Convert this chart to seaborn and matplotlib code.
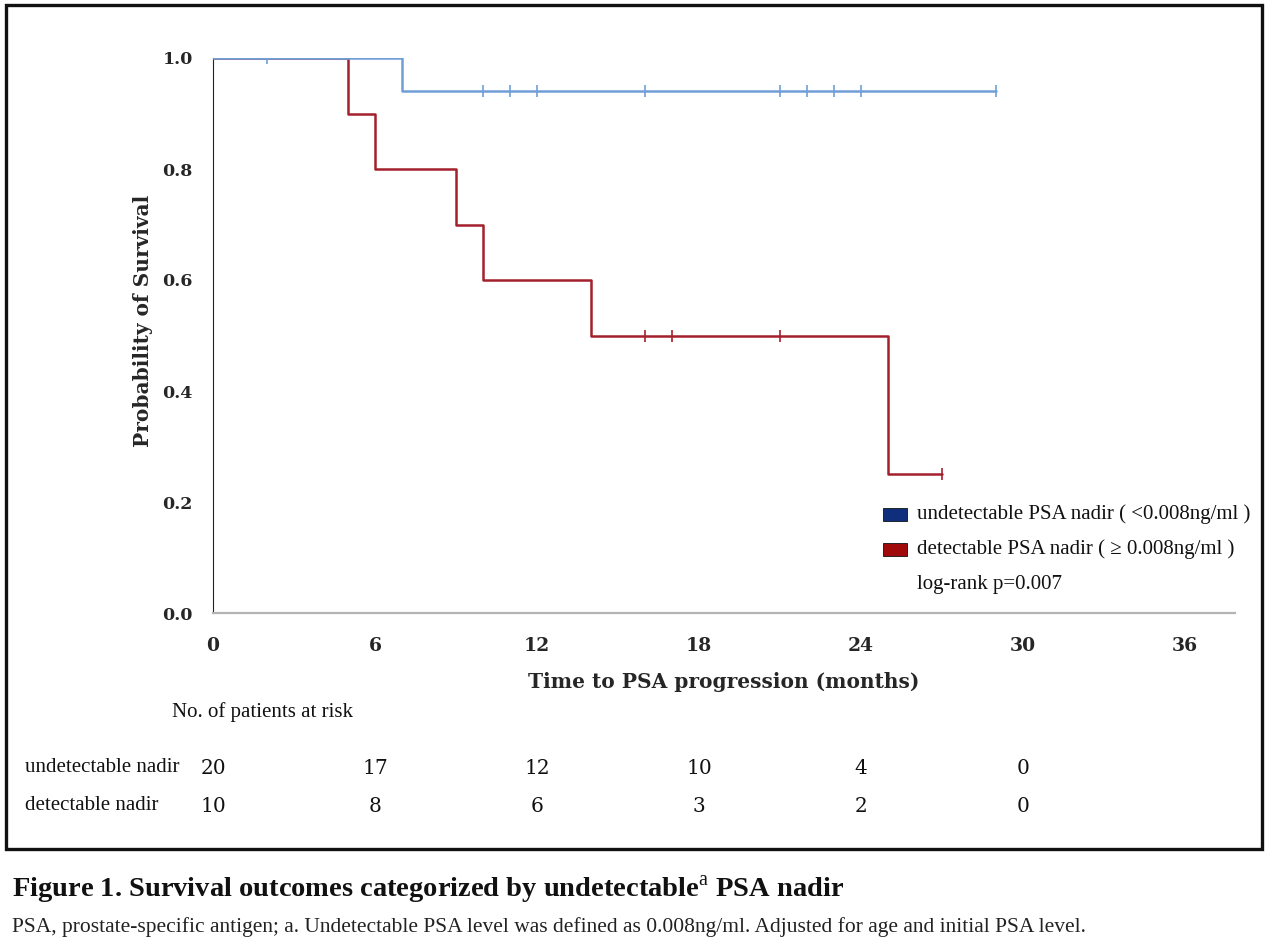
import numpy as np
import pandas as pd
import matplotlib
matplotlib.use("Agg")
import matplotlib.pyplot as plt
from matplotlib.patches import Rectangle
import seaborn as sns

# ---- data ----
undet_step_times = [0, 7, 29]
undet_step_surv = [1.0, 0.94, 0.94]
undet_censor_times = [2, 10, 11, 12, 16, 21, 22, 23, 24, 29]

det_step_times = [0, 5, 6, 9, 10, 14, 25, 27]
det_step_surv = [1.0, 0.9, 0.8, 0.7, 0.6, 0.5, 0.25, 0.25]
det_censor_times = [16, 17, 21, 27]

x_ticks = [0, 6, 12, 18, 24, 30, 36]
y_ticks = [0.0, 0.2, 0.4, 0.6, 0.8, 1.0]

risk_times = [0, 6, 12, 18, 24, 30]
risk_undet = [20, 17, 12, 10, 4, 0]
risk_det = [10, 8, 6, 3, 2, 0]

group_names = ["undetectable PSA nadir ( <0.008ng/ml )", "detectable PSA nadir ( \u2265 0.008ng/ml )"]
risk_row_names = ["undetectable nadir", "detectable nadir"]

line_colors = ["#6f9fd6", "#a3202c"]
patch_colors = ["#0f2f7c", "#a00a0a"]

# ---- style ----
sns.set_style("white")
plt.rcParams["font.family"] = ["DejaVu Serif", "DejaVu Sans"]
plt.rcParams["mathtext.fontset"] = "custom"
plt.rcParams["mathtext.rm"] = "Liberation Serif"

W, H = 1269, 948
fig = plt.figure(figsize=(W / 100, H / 100), dpi=100)

def px_ax(l, t, r, b):
    return [l / W, 1 - b / H, (r - l) / W, (b - t) / H]

ax = fig.add_axes(px_ax(213, 58, 1235, 613))

def censor_y(times, surv, ctimes):
    idx = np.searchsorted(times, ctimes, side="right") - 1
    return [surv[i] for i in idx]

curves = [
    ("undet", undet_step_times, undet_step_surv, undet_censor_times, 4),
    ("det", det_step_times, det_step_surv, det_censor_times, 2),
]
for (name, t, s, c, z), col in zip(curves, line_colors):
    df = pd.DataFrame({"time": t, "surv": s})
    sns.lineplot(data=df, x="time", y="surv", drawstyle="steps-post",
                 color=col, linewidth=1.8, ax=ax, legend=False, zorder=z)
    cdf = pd.DataFrame({"time": c, "surv": censor_y(t, s, c)})
    sns.scatterplot(data=cdf, x="time", y="surv", marker="|", s=70,
                    color=col, linewidth=1.2, ax=ax, legend=False, zorder=z + 1)

ax.set_xlim(0, 37.85)
ax.set_ylim(0, 1.0)
ax.set_xticks(x_ticks)
ax.set_xticklabels([str(v) for v in x_ticks])
ax.set_yticks(y_ticks)
ax.set_yticklabels([f"{v:.1f}" for v in y_ticks])
for sp in ["top", "right"]:
    ax.spines[sp].set_visible(False)
ax.spines["left"].set_color("#222222")
ax.spines["left"].set_linewidth(0.8)
ax.spines["bottom"].set_color("#b4b4b4")
ax.spines["bottom"].set_linewidth(1.6)
ax.tick_params(axis="y", direction="out", length=9.5, width=1.2, color="#b4b4b4",
               pad=5, labelsize=12.5)
ax.tick_params(axis="x", direction="out", length=9, width=1.6, color="#b4b4b4",
               pad=8, labelsize=13.5)
for lab in ax.get_xticklabels() + ax.get_yticklabels():
    lab.set_fontweight("bold")
ax.set_xlabel("Time to PSA progression (months)", fontsize=14.5, fontweight="bold")
ax.set_ylabel("Probability of Survival", fontsize=14.5, fontweight="bold")
ax.xaxis.set_label_coords(0.5, -0.106)
ax.yaxis.set_label_coords(-0.0587, 0.5 + 15 / 555)

# ---- legend (drawn as patches + text) ----
tfont = dict(family=["Liberation Serif", "DejaVu Serif"], fontsize=15, color="#111111")
leg_y = [514, 549]
for name, pc, yy in zip(group_names, patch_colors, leg_y):
    fig.patches.append(Rectangle((883 / W, 1 - (yy + 6.5) / H), 24 / W, 13 / H,
                                 transform=fig.transFigure, facecolor=pc,
                                 edgecolor="#111111", linewidth=0.6))
    fig.text(917 / W, 1 - yy / H, name, va="center", ha="left", **tfont)
fig.text(917 / W, 1 - 584 / H, "log-rank p=0.007", va="center", ha="left", **tfont)

# ---- risk table ----
fig.text(172 / W, 1 - 712 / H, "No. of patients at risk", va="center", ha="left",
         family=["Liberation Serif", "DejaVu Serif"], fontsize=15, color="#111111")
row_y = [767, 805]
for rname, counts, yy in zip(risk_row_names, [risk_undet, risk_det], row_y):
    fig.text(25 / W, 1 - yy / H, rname, va="center", ha="left",
             family=["Liberation Serif", "DejaVu Serif"], fontsize=15, color="#111111")
    for t, n in zip(risk_times, counts):
        xfig = fig.transFigure.inverted().transform(ax.transData.transform((t, 0)))[0]
        fig.text(xfig, 1 - (yy + 1) / H, str(n), va="center", ha="center",
                 fontsize=14.5, color="#111111")

# ---- frame around the figure panel ----
fig.patches.append(Rectangle((5.5 / W, 1 - 849 / H), (1262 - 5.5) / W, (849 - 5) / H,
                             transform=fig.transFigure, fill=False,
                             edgecolor="#111111", linewidth=2.4))

# ---- caption ----
fig.text(12 / W, 1 - 890 / H, "Figure 1. Survival outcomes categorized by undetectable$^{\\mathrm{a}}$ PSA nadir",
         va="center", ha="left", family=["Liberation Serif", "DejaVu Serif"],
         fontsize=20.5, fontweight="bold", color="#111111")
fig.text(12 / W, 1 - 927 / H,
         "PSA, prostate-specific antigen; a. Undetectable PSA level was defined as 0.008ng/ml. Adjusted for age and initial PSA level.",
         va="center", ha="left", family=["Liberation Serif", "DejaVu Serif"],
         fontsize=15.5, color="#222222")

fig.savefig("out.png", dpi=100, facecolor="white")
